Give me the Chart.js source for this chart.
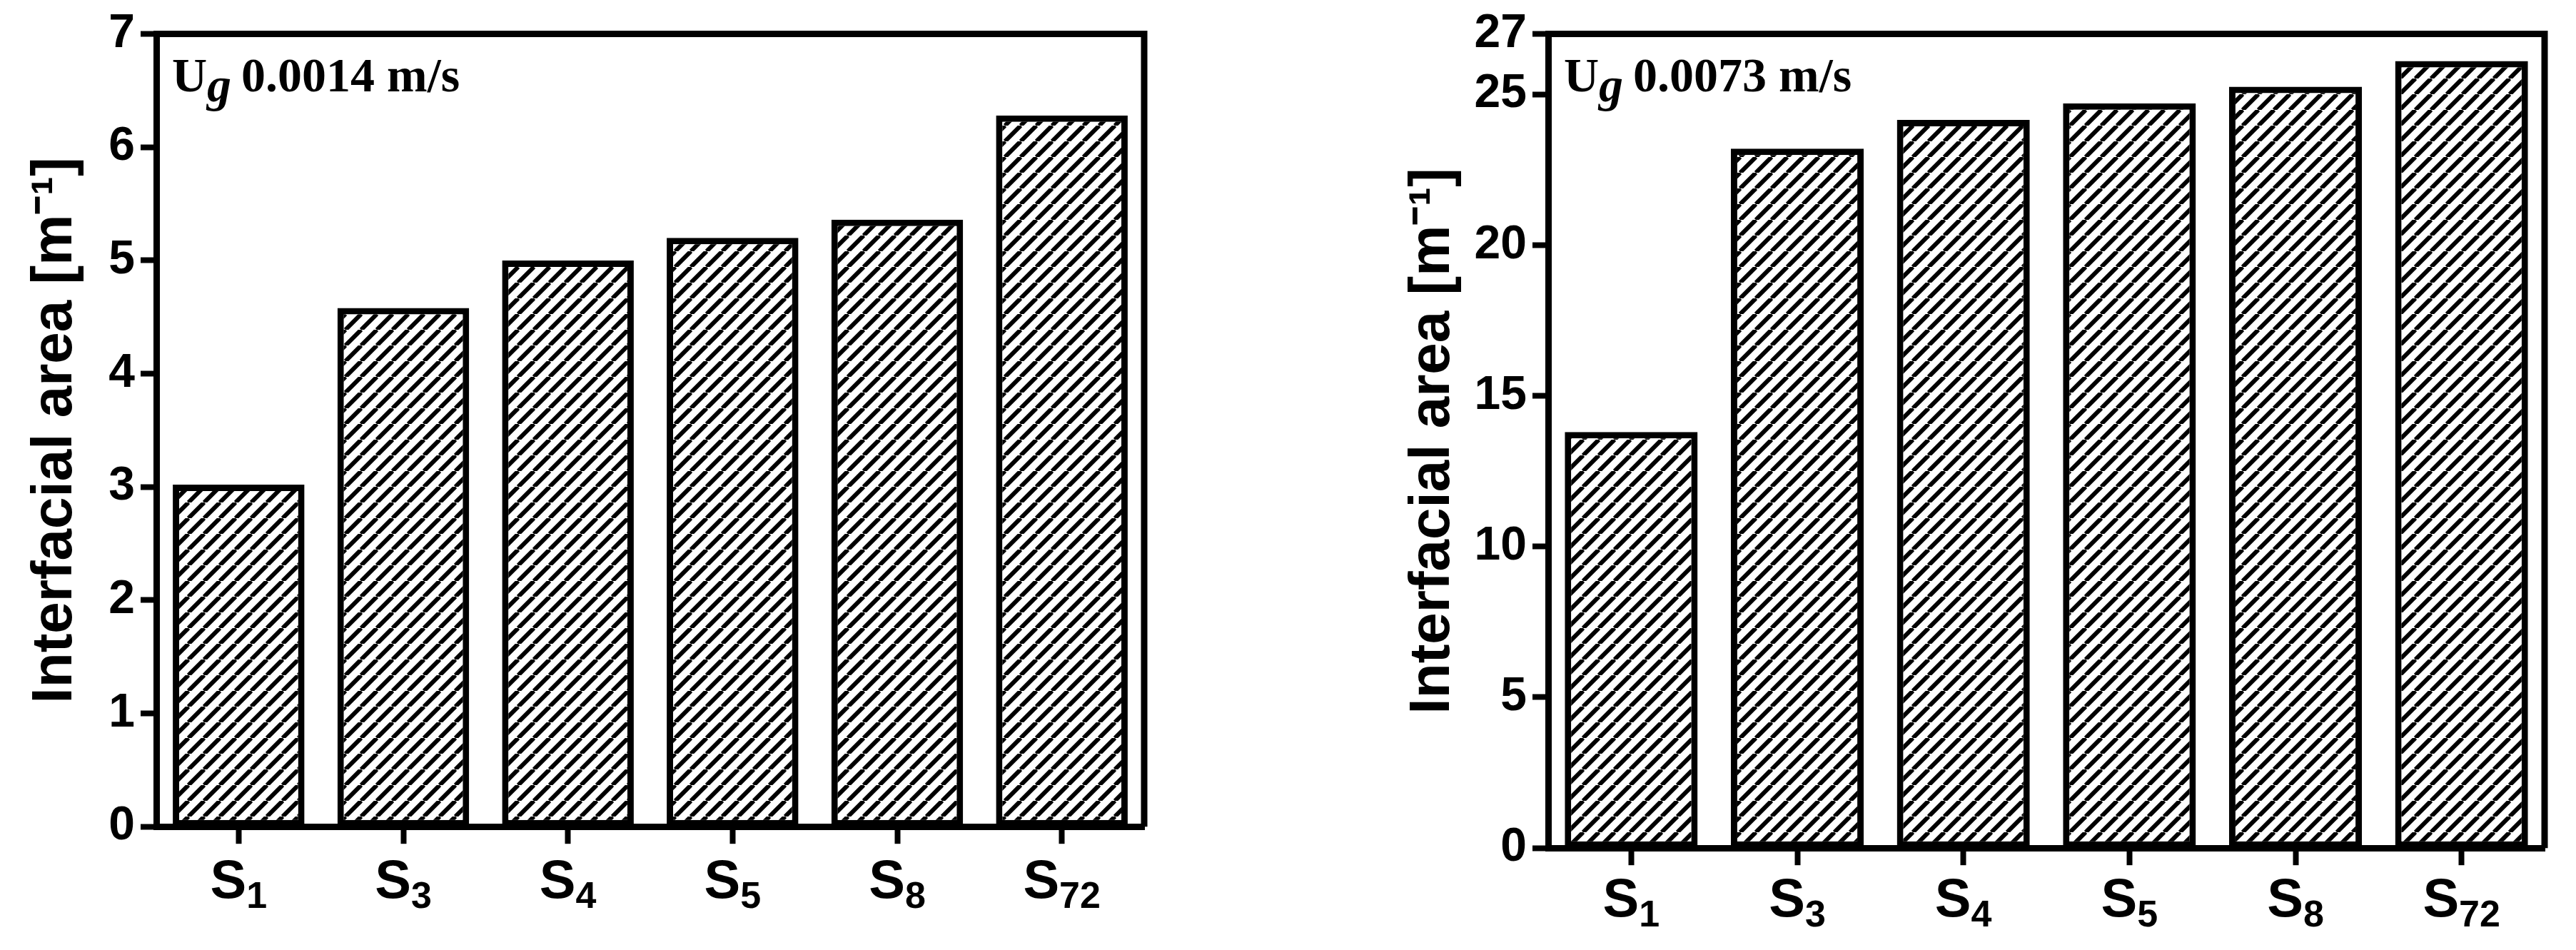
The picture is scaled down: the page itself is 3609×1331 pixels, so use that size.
<!DOCTYPE html>
<html><head><meta charset="utf-8">
<script src="https://cdn.jsdelivr.net/npm/chart.js@4"></script>
<style>
body{margin:0;background:#fff;width:3609px;height:1331px;position:relative;overflow:hidden}
.box{position:absolute;top:0;height:1331px}
</style></head><body>
<div class="box" style="left:0;width:1660px"><canvas id="left"></canvas></div>
<div class="box" style="left:1800px;width:1809px"><canvas id="right"></canvas></div>
<script>
const labels = ['S1', 'S3', 'S4', 'S5', 'S8', 'S72'];
const areaLow = [3.02, 4.58, 5.0, 5.2, 5.36, 6.28];
const areaHigh = [13.8, 23.2, 24.15, 24.7, 25.25, 26.1];
const ticksLow = [0, 1, 2, 3, 4, 5, 6, 7];
const ticksHigh = [0, 5, 10, 15, 20, 25, 27];

function hatch() {
  const c = document.createElement('canvas');
  c.width = 22; c.height = 22;
  const g = c.getContext('2d');
  g.fillStyle = '#fff'; g.fillRect(0, 0, 22, 22);
  g.strokeStyle = '#000'; g.lineWidth = 6;
  for (const o of [-22, 0, 22]) {
    g.beginPath(); g.moveTo(o, 22); g.lineTo(o + 22, 0); g.stroke();
  }
  return g.createPattern(c, 'repeat');
}

const frame = {
  id: 'frame',
  afterDraw(chart, args, opts) {
    const {ctx, chartArea: a} = chart;
    ctx.save();
    ctx.strokeStyle = '#000'; ctx.lineWidth = 9;
    ctx.beginPath();
    ctx.moveTo(a.left, a.top); ctx.lineTo(a.right, a.top); ctx.lineTo(a.right, a.bottom);
    ctx.stroke();
    ctx.fillStyle = '#000';
    // x labels: S with subscript
    const xs = chart.scales.x;
    labels.forEach((lab, i) => {
      const cx = xs.getPixelForTick(i);
      const sub = lab.slice(1);
      ctx.font = 'bold 76px "Liberation Sans"';
      const w1 = ctx.measureText('S').width;
      ctx.font = 'bold 52px "Liberation Sans"';
      const w2 = ctx.measureText(sub).width;
      const x0 = cx - (w1 + w2) / 2;
      const y = a.bottom + opts.labelDy;
      ctx.font = 'bold 76px "Liberation Sans"';
      ctx.fillText('S', x0, y);
      ctx.font = 'bold 52px "Liberation Sans"';
      ctx.fillText(sub, x0 + w1, y + 14);
    });
    // annotation "Ug x m/s"
    let x = a.left + 22, y = a.top + 80;
    ctx.font = 'bold 68px "Liberation Serif"';
    ctx.fillText('U', x, y); x += ctx.measureText('U').width;
    ctx.font = 'bold italic 68px "Liberation Serif"';
    ctx.fillText('g', x, y + 14); x += ctx.measureText('g').width + 14;
    ctx.font = 'bold 68px "Liberation Serif"';
    ctx.fillText(opts.text, x, y);
    ctx.restore();
  }
};

function makeChart(id, data, tickVals, max, yWidth, pad, text, labelDy) {
  new Chart(document.getElementById(id), {
    type: 'bar',
    data: {
      labels: labels,
      datasets: [{
        data: data,
        backgroundColor: hatch(),
        borderColor: '#000',
        borderWidth: 9,
        borderSkipped: false,
        categoryPercentage: 0.8,
        barPercentage: 1
      }]
    },
    plugins: [frame],
    options: {
      responsive: true,
      maintainAspectRatio: false,
      animation: false,
      layout: {padding: pad},
      plugins: {legend: {display: false}, tooltip: {enabled: false}, frame: {text: text, labelDy: labelDy}},
      scales: {
        x: {
          grid: {offset: false, drawOnChartArea: false, tickLength: 24, tickWidth: 8, tickColor: '#000'},
          border: {color: '#000', width: 9},
          ticks: {color: 'rgba(0,0,0,0)', padding: 12, font: {family: 'Liberation Sans', weight: 'bold', size: 54}}
        },
        y: {
          min: 0, max: max,
          afterBuildTicks: ax => { ax.ticks = tickVals.map(v => ({value: v})); },
          afterFit: ax => { ax.width = yWidth; },
          grid: {drawOnChartArea: false, tickLength: 22, tickWidth: 8, tickColor: '#000'},
          border: {color: '#000', width: 9},
          ticks: {color: '#000', padding: 8, font: {family: 'Liberation Sans', weight: 'bold', size: 66}},
          title: {display: true, text: 'Interfacial area [m\u207B\u00B9]', color: '#000', padding: {top: 20, bottom: 0},
                  font: {family: 'Liberation Sans', weight: 'bold', size: 80}}
        }
      }
    }
  });
}

makeChart('left', areaLow, ticksLow, 7, 209, {top: 46, right: 57, bottom: 60, left: 10}, '0.0014 m/s', 100);
makeChart('right', areaHigh, ticksHigh, 27, 229, {top: 46, right: 44, bottom: 30, left: 140}, '0.0073 m/s', 96);
</script></body></html>
